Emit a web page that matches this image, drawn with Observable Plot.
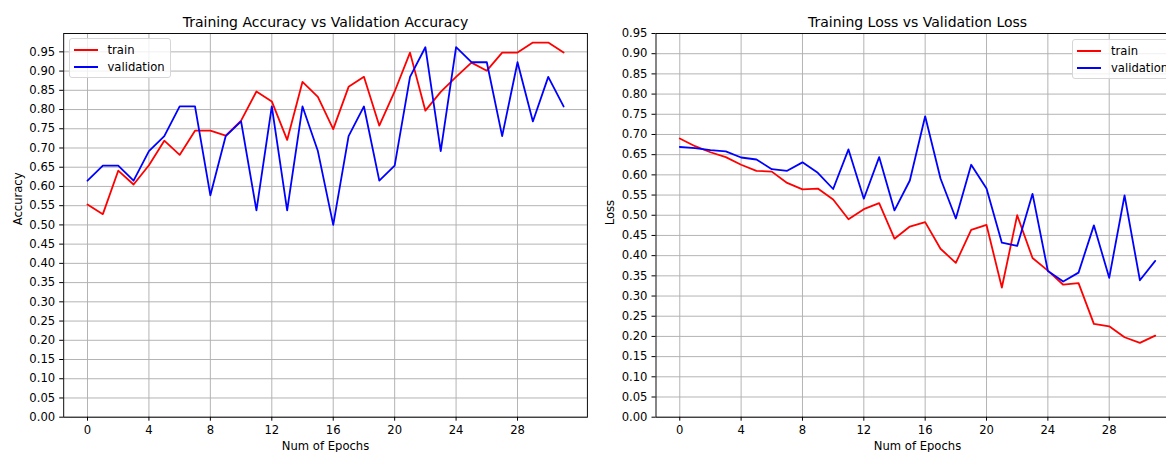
<!DOCTYPE html>
<html>
<head>
<meta charset="utf-8">
<script src="https://cdn.jsdelivr.net/npm/d3@7"></script>
<script src="https://cdn.jsdelivr.net/npm/@observablehq/plot@0.6"></script>
<style>
  html, body { margin: 0; padding: 0; background: #fff; }
  #wrap { position: relative; width: 1166px; height: 452px; overflow: hidden; font-family: "DejaVu Sans", sans-serif; }
  .panel { position: absolute; top: 0; width: 600px; height: 452px; }
  .panel svg { max-width: none !important; width: 600px; height: 452px; }
  .legend { position: absolute; background: rgba(255,255,255,0.8); border: 1px solid #d6d6d6; border-radius: 3px; box-sizing: border-box; font-size: 11.6px; color: #000; }
  .legend .row { position: absolute; left: 0; height: 14px; width: 200px; }
  .legend .sw { position: absolute; top: 6px; height: 1.8px; width: 24px; }
  .legend .lab { position: absolute; top: 0; line-height: 14px; white-space: nowrap; }
</style>
</head>
<body>
<div id="wrap">
  <div id="left" class="panel" style="left:0px"></div>
  <div id="right" class="panel" style="left:600px"></div>
</div>
<script>
// ---- data ----
const epochs = [0,1,2,3,4,5,6,7,8,9,10,11,12,13,14,15,16,17,18,19,20,21,22,23,24,25,26,27,28,29,30,31];
const trainAcc = [0.553,0.528,0.641,0.605,0.655,0.719,0.682,0.745,0.745,0.732,0.771,0.847,0.821,0.721,0.872,0.833,0.749,0.859,0.885,0.758,0.847,0.948,0.797,0.846,0.885,0.922,0.901,0.948,0.948,0.974,0.974,0.948];
const valAcc = [0.615,0.654,0.654,0.615,0.692,0.731,0.808,0.808,0.577,0.731,0.769,0.538,0.808,0.538,0.808,0.692,0.500,0.731,0.808,0.615,0.654,0.885,0.962,0.692,0.962,0.923,0.923,0.731,0.923,0.769,0.885,0.808];
const trainLoss = [0.690,0.671,0.656,0.644,0.625,0.610,0.608,0.580,0.564,0.566,0.539,0.490,0.515,0.530,0.442,0.472,0.483,0.417,0.382,0.464,0.476,0.321,0.500,0.394,0.363,0.328,0.332,0.231,0.225,0.198,0.184,0.202];
const valLoss = [0.669,0.666,0.661,0.658,0.643,0.638,0.614,0.610,0.631,0.605,0.565,0.663,0.541,0.644,0.512,0.586,0.745,0.591,0.492,0.625,0.566,0.432,0.424,0.553,0.362,0.336,0.358,0.475,0.345,0.549,0.339,0.387];
const xTicks = [0,4,8,12,16,20,24,28];
const yTicks = [0.00,0.05,0.10,0.15,0.20,0.25,0.30,0.35,0.40,0.45,0.50,0.55,0.60,0.65,0.70,0.75,0.80,0.85,0.90,0.95];
const seriesNames = ["train", "validation"];
const seriesColors = ["#ff0000", "#0000ff"];

function rows(a, b) {
  return epochs.flatMap((e, i) => [
    {epoch: e, value: a[i], series: seriesNames[0]},
    {epoch: e, value: b[i], series: seriesNames[1]}
  ]);
}

function panel({data, yMax, title, ylabel, marginLeft, marginRight}) {
  const font = "DejaVu Sans, sans-serif";
  return Plot.plot({
    width: 600,
    height: 452,
    marginLeft,
    marginRight,
    marginTop: 33,
    marginBottom: 35.3,
    style: {fontFamily: font, fontSize: "11.6px", color: "#000", background: "transparent", overflow: "visible"},
    x: {domain: [-1.55, 32.55]},
    y: {domain: [0, yMax]},
    color: {domain: seriesNames, range: seriesColors},
    marks: [
      Plot.gridX(xTicks, {stroke: "#b0b0b0", strokeOpacity: 1, strokeWidth: 0.95}),
      Plot.gridY(yTicks, {stroke: "#b0b0b0", strokeOpacity: 1, strokeWidth: 0.95}),
      Plot.line(data, {x: "epoch", y: "value", z: "series", stroke: "series", strokeWidth: 1.8, curve: "linear"}),
      Plot.frame({stroke: "#000", strokeWidth: 0.95}),
      Plot.axisX({ticks: xTicks, tickSize: 4, tickPadding: 5, label: null, fontSize: 11.6}),
      Plot.axisY({ticks: yTicks, tickSize: 4, tickPadding: 4.5, tickFormat: d3.format(".2f"), label: null, fontSize: 11.6}),
      Plot.text([title], {frameAnchor: "top", dy: -7, lineAnchor: "bottom", fontSize: 14, fill: "#000"}),
      Plot.text(["Num of Epochs"], {frameAnchor: "bottom", dy: 32.3, lineAnchor: "bottom", fontSize: 11.6, fill: "#000"}),
      Plot.text([ylabel], {frameAnchor: "left", dx: -45.5, rotate: -90, lineAnchor: "middle", fontSize: 11.6, fill: "#000"})
    ]
  });
}

document.getElementById("left").appendChild(panel({
  data: rows(trainAcc, valAcc), yMax: 0.9977,
  title: "Training Accuracy vs Validation Accuracy", ylabel: "Accuracy",
  marginLeft: 63.2, marginRight: 13.1
}));
document.getElementById("right").appendChild(panel({
  data: rows(trainLoss, valLoss), yMax: 0.95,
  title: "Training Loss vs Validation Loss", ylabel: "Loss",
  marginLeft: 55.5, marginRight: 21.5
}));

function legend(left, top) {
  const box = document.createElement("div");
  box.className = "legend";
  box.style.left = left + "px";
  box.style.top = top + "px";
  box.style.width = "102px";
  box.style.height = "40px";
  seriesNames.forEach((name, i) => {
    const row = document.createElement("div");
    row.className = "row";
    row.style.top = (4.5 + i * 17.3) + "px";
    const sw = document.createElement("div");
    sw.className = "sw";
    sw.style.left = "4px";
    sw.style.background = seriesColors[i];
    const lab = document.createElement("div");
    lab.className = "lab";
    lab.style.left = "38px";
    lab.textContent = name;
    row.appendChild(sw);
    row.appendChild(lab);
    box.appendChild(row);
  });
  document.getElementById("wrap").appendChild(box);
}
legend(68.5, 37.5);
legend(1072, 38.5);
</script>
</body>
</html>
